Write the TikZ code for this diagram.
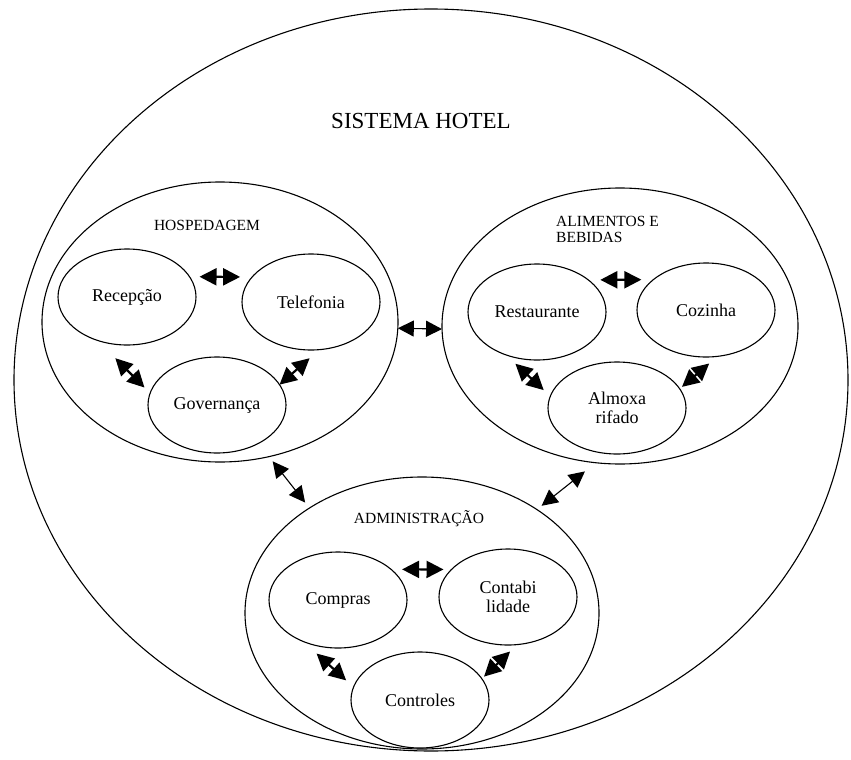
\documentclass[tikz,border=0pt]{standalone}
\usepackage{fontspec}
\setmainfont{Liberation Serif}
\usepackage{tikz}
\tikzset{big node/.style={ellipse,draw,line width=1.1pt,inner sep=0pt,outer sep=0pt},
group node/.style={ellipse,draw,line width=1.1pt,inner sep=0pt,outer sep=0pt,minimum width=356pt,minimum height=278pt},
sub node/.style={ellipse,draw,line width=1.1pt,inner sep=0pt,outer sep=0pt,minimum width=138pt,minimum height=96pt,align=center,font=\fontsize{18}{19}\selectfont},
group label/.style={inner sep=0pt,font=\fontsize{15.5}{16}\selectfont},
sub arrow/.style={{Triangle[length=17pt,width=17pt]}-{Triangle[length=17pt,width=17pt]},line width=2.2pt},
link arrow/.style={{Triangle[length=16pt,width=16pt]}-{Triangle[length=16pt,width=16pt]},line width=1.1pt},
}
\usetikzlibrary{positioning,shapes.geometric,arrows.meta}

\begin{document}
\begin{tikzpicture}[x=1pt,y=1pt]
\useasboundingbox (0,0) rectangle (851,-760);

\node[big node,minimum width=834pt,minimum height=742pt] (hotel) at (431,-380) {};
\node[inner sep=0pt,anchor=base,font=\fontsize{23}{26}\selectfont] (title) at (421,-128) {SISTEMA HOTEL};

%% hospedagem
\node[group node,minimum height=280pt] (hosp) at (220,-322) {};
\node[group label,anchor=base] (hosplbl) at (207,-230) {HOSPEDAGEM};
\node[sub node] (rec) at (127,-297) {Recepção};
\node[sub node] (tel) at (311,-302) {Telefonia};
\node[sub node] (gov) at (217,-405) {Governança};

\draw[sub arrow,shorten <=10pt,shorten >=12pt] (rec.18) -- (tel.157);
\draw[sub arrow,shorten <=25pt,shorten >=8pt] (rec.236) -- (gov.170);
\draw[sub arrow,shorten >=13pt] (gov.18) -- (tel.280);

%% alimentos e bebidas
\node[group node,minimum height=276pt] (alim) at (620,-326) {};
\node[group label,anchor=north west,align=left] (alimlbl) at (556,-216) {ALIMENTOS E\\BEBIDAS};
\node[sub node] (res) at (537,-312) {Restaurante};
\node[sub node,minimum height=94pt] (coz) at (706,-310) {Cozinha};
\node[sub node,minimum height=92pt] (alm) at (617,-408) {Almoxa\\rifado};

\draw[sub arrow,shorten <=12pt,shorten >=12pt] (res.32) -- (coz.150);
\draw[sub arrow,shorten <=13pt,shorten >=9pt] (res.234) -- (alm.170);
\draw[sub arrow,shorten <=11pt,shorten >=3pt] (coz.284) -- (alm.17);

%% administracao
\node[group node,minimum width=354pt,minimum height=272pt] (adm) at (422,-613) {};
\node[group label,anchor=base] (admlbl) at (419,-523) {ADMINISTRAÇÃO};
\node[sub node] (com) at (338,-600) {Compras};
\node[sub node] (cont) at (508,-597) {Contabi\\lidade};
\node[sub node] (ctr) at (420,-700) {Controles};

\draw[sub arrow,shorten <=11pt,shorten >=8pt] (com.30) -- (cont.154);
\draw[sub arrow,shorten <=18pt,shorten >=10pt] (com.230) -- (ctr.169);
\draw[sub arrow,shorten <=10pt,shorten >=3pt] (cont.281) -- (ctr.19);

%% links between the areas
\draw[link arrow] (hosp.358) -- (alim.181);
\draw[link arrow,shorten <=6pt,shorten >=7pt] (hosp.290) -- (adm.137);
\draw[link arrow,shorten <=14pt,shorten >=6pt] (alim.260) -- (adm.42);
\end{tikzpicture}
\end{document}
